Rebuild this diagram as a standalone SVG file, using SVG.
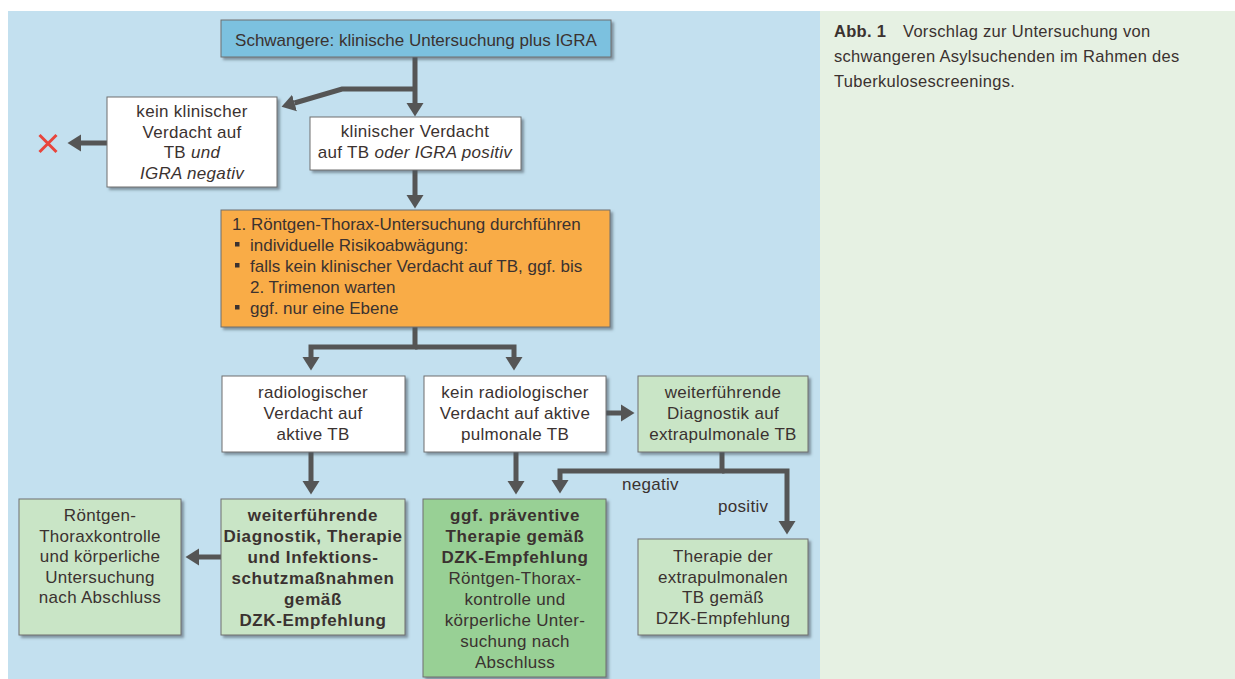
<svg xmlns="http://www.w3.org/2000/svg" width="1235" height="679" viewBox="0 0 1235 679">
<style>
.t{font-family:"Liberation Sans",Arial,sans-serif;font-size:17px;fill:#3b3230;text-anchor:middle;letter-spacing:0.3px}
.l{text-anchor:start}
.n{letter-spacing:0px}
.b{font-weight:bold;letter-spacing:0.6px}
.i{font-style:italic}
.box{stroke:#6f6f6f;stroke-width:1;filter:url(#sh)}
.w{fill:#ffffff}
.g{fill:#c9e5c6}
.dg{fill:#98d095}
.c{fill:none;stroke:#555555;stroke-width:5;marker-end:url(#ah)}
.cap{font-family:"Liberation Sans",Arial,sans-serif;font-size:16.5px;fill:#3b3230;letter-spacing:0.3px}
</style>
<defs>
<filter id="sh" x="-10%" y="-10%" width="130%" height="130%">
<feDropShadow dx="2.5" dy="2.5" stdDeviation="1.2" flood-color="#4a5560" flood-opacity="0.55"/>
</filter>
<marker id="ah" markerUnits="userSpaceOnUse" markerWidth="14" markerHeight="18" refX="0" refY="9" orient="auto">
<path d="M0,0.5 L13.5,9 L0,17.5 z" fill="#555555"/>
</marker>
</defs>
<rect x="0" y="0" width="1235" height="679" fill="#ffffff"/>
<rect x="8" y="11" width="812" height="668" fill="#c3e0ef"/>
<rect x="820" y="11" width="415" height="668" fill="#e6f1e3"/>

<g id="caption">
<text class="cap" x="834" y="37"><tspan font-weight="bold">Abb. 1</tspan><tspan x="903">Vorschlag zur Untersuchung von</tspan></text>
<text class="cap" x="834" y="62">schwangeren Asylsuchenden im Rahmen des</text>
<text class="cap" x="834" y="87">Tuberkulosescreenings.</text>
</g>

<g id="connectors">
<path class="c" d="M415,57 V103"/>
<path class="c" d="M415,89 H342 L294.5,103"/>
<path class="c" d="M107,143 H81"/>
<path class="c" d="M415,170 V195"/>
<path class="c" d="M415,327 V347 H311 V357"/>
<path class="c" d="M415,347 H514 V357"/>
<path class="c" d="M311,452 V481"/>
<path class="c" d="M516,452 V481"/>
<path class="c" d="M606,413 H621"/>
<path class="c" d="M722,452 V471 H560 V480"/>
<path class="c" d="M722,471 H787 V521"/>
<path class="c" d="M221,557 H199"/>
<text class="t l" x="622" y="490">negativ</text>
<text class="t l" x="718" y="512">positiv</text>
<path d="M39.5,135 L56.5,152 M56.5,135 L39.5,152" stroke="#e8453c" stroke-width="3" fill="none"/>
</g>

<g id="n-top">
<rect class="box" x="221" y="20" width="390" height="37" fill="#7cc1df"/>
<text class="t n" x="416" y="46">Schwangere: klinische Untersuchung plus IGRA</text>
</g>

<g id="n-kein-klinisch">
<rect class="box w" x="107" y="97" width="170" height="90"/>
<text class="t" x="192" y="117">kein klinischer</text>
<text class="t" x="192" y="138">Verdacht auf</text>
<text class="t" x="192" y="158">TB <tspan class="i">und</tspan></text>
<text class="t i" x="192" y="179">IGRA negativ</text>
</g>

<g id="n-klinisch">
<rect class="box w" x="310" y="117" width="211" height="53"/>
<text class="t" x="415" y="137">klinischer Verdacht</text>
<text class="t" x="415" y="158">auf TB <tspan class="i">oder IGRA positiv</tspan></text>
</g>

<g id="n-roentgen">
<rect class="box" x="221" y="210" width="389" height="117" fill="#f9ac47"/>
<text class="t l n" x="232" y="230">1. Röntgen-Thorax-Untersuchung durchführen</text>
<rect x="235" y="242" width="4.5" height="4.5" fill="#3b3230"/>
<text class="t l n" x="250" y="251">individuelle Risikoabwägung:</text>
<rect x="235" y="263" width="4.5" height="4.5" fill="#3b3230"/>
<text class="t l n" x="250" y="272">falls kein klinischer Verdacht auf TB, ggf. bis</text>
<text class="t l n" x="250" y="293">2. Trimenon warten</text>
<rect x="235" y="305" width="4.5" height="4.5" fill="#3b3230"/>
<text class="t l n" x="250" y="314">ggf. nur eine Ebene</text>
</g>

<g id="n-radio">
<rect class="box w" x="222" y="376" width="183" height="76"/>
<text class="t" x="313" y="398">radiologischer</text>
<text class="t" x="313" y="419">Verdacht auf</text>
<text class="t" x="313" y="440">aktive TB</text>
</g>

<g id="n-kein-radio">
<rect class="box w" x="424" y="376" width="182" height="76"/>
<text class="t" x="515" y="398">kein radiologischer</text>
<text class="t" x="515" y="419">Verdacht auf aktive</text>
<text class="t" x="515" y="440">pulmonale TB</text>
</g>

<g id="n-extra-diag">
<rect class="box g" x="638" y="376" width="170" height="76"/>
<text class="t" x="723" y="398">weiterführende</text>
<text class="t" x="723" y="419">Diagnostik auf</text>
<text class="t" x="723" y="440">extrapulmonale TB</text>
</g>

<g id="n-weiter">
<rect class="box g" x="221" y="499" width="184" height="136"/>
<text class="t b" x="313" y="521">weiterführende</text>
<text class="t b" x="313" y="542">Diagnostik, Therapie</text>
<text class="t b" x="313" y="563">und Infektions-</text>
<text class="t b" x="313" y="584">schutzmaßnahmen</text>
<text class="t b" x="313" y="605">gemäß</text>
<text class="t b" x="313" y="626">DZK-Empfehlung</text>
</g>

<g id="n-kontrolle">
<rect class="box g" x="19" y="499" width="162" height="136"/>
<text class="t" x="100" y="521">Röntgen-</text>
<text class="t" x="100" y="542">Thoraxkontrolle</text>
<text class="t" x="100" y="562">und körperliche</text>
<text class="t" x="100" y="583">Untersuchung</text>
<text class="t" x="100" y="603">nach Abschluss</text>
</g>

<g id="n-praeventiv">
<rect class="box dg" x="423" y="499" width="183" height="178"/>
<text class="t b" x="515" y="521">ggf. präventive</text>
<text class="t b" x="515" y="542">Therapie gemäß</text>
<text class="t b" x="515" y="563">DZK-Empfehlung</text>
<text class="t" x="515" y="584">Röntgen-Thorax-</text>
<text class="t" x="515" y="605">kontrolle und</text>
<text class="t" x="515" y="626">körperliche Unter-</text>
<text class="t" x="515" y="647">suchung nach</text>
<text class="t" x="515" y="668">Abschluss</text>
</g>

<g id="n-extra-ther">
<rect class="box g" x="638" y="539" width="170" height="96"/>
<text class="t" x="723" y="562">Therapie der</text>
<text class="t" x="723" y="583">extrapulmonalen</text>
<text class="t" x="723" y="603">TB gemäß</text>
<text class="t" x="723" y="624">DZK-Empfehlung</text>
</g>
</svg>
